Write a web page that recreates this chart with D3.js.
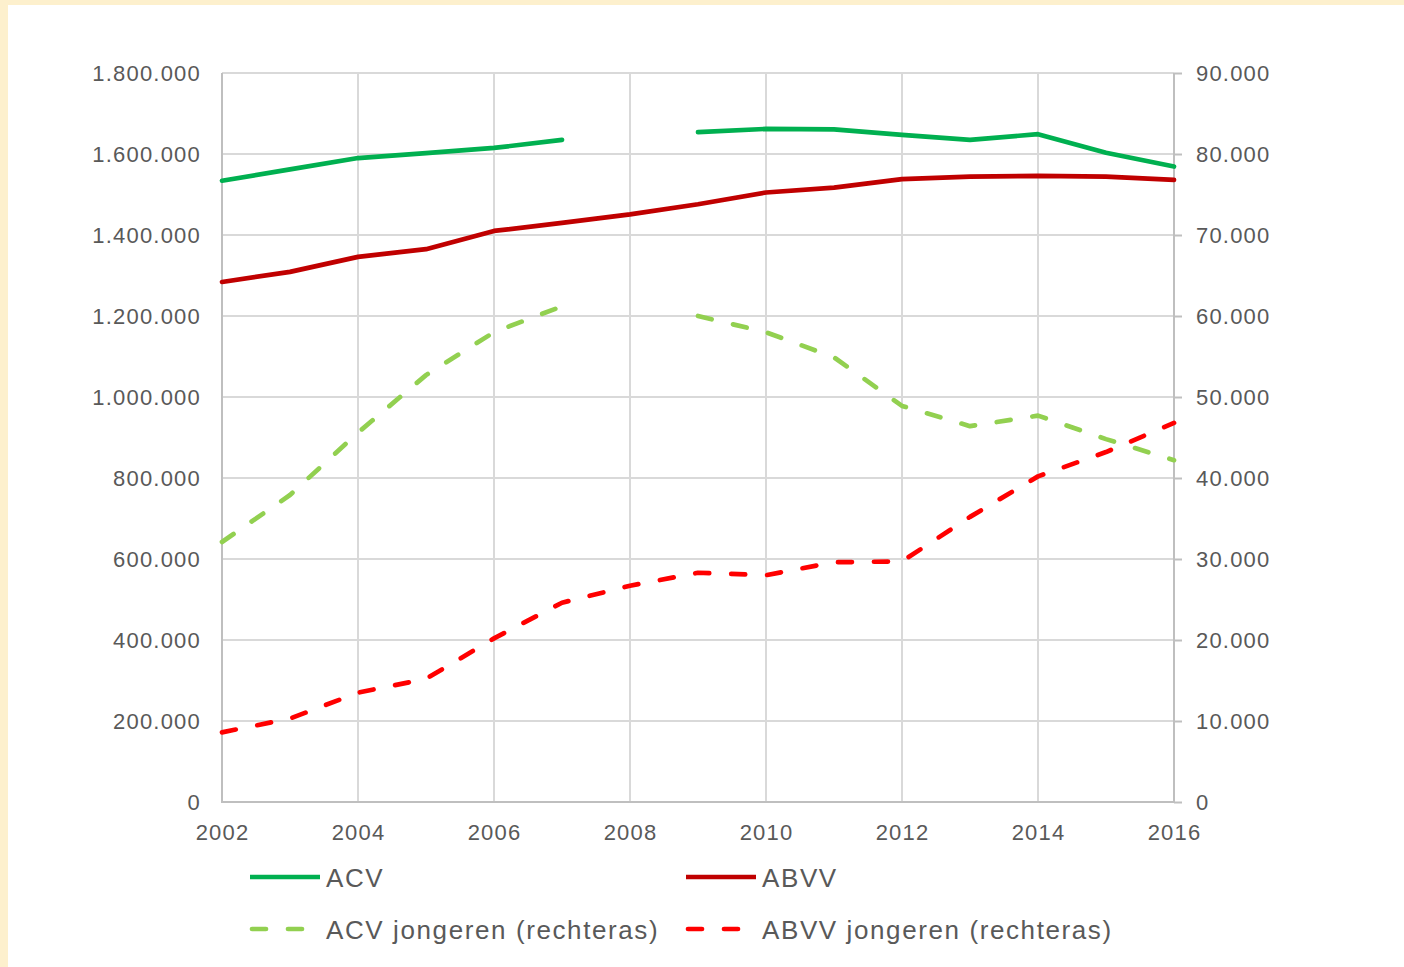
<!DOCTYPE html>
<html lang="nl">
<head>
<meta charset="UTF-8">
<script src="https://cdn.jsdelivr.net/npm/d3@7"></script>
<title>ACV / ABVV leden</title>
<style>
html, body { margin: 0; padding: 0; }
body { background: #FDF0CD; width: 1404px; height: 967px; overflow: hidden; }
#chart { position: absolute; left: 8px; top: 5px; background: #fff; }
text { font-family: "Liberation Sans", Arial, sans-serif; fill: #595959; }
</style>
</head>
<body>
<svg id="chart" width="1396" height="962"></svg>
<script>
// data
var years = [2002, 2003, 2004, 2005, 2006, 2007, 2008, 2009, 2010, 2011, 2012, 2013, 2014, 2015, 2016]
var acv = [1534000, 1562000, 1590000, 1602000, 1615000, 1635000, null, 1654000, 1662000, 1661000, 1647000, 1635000, 1649000, 1603000, 1569000]
var abvv = [1284000, 1309000, 1346000, 1365000, 1410000, 1430000, 1451000, 1476000, 1505000, 1517000, 1538000, 1544000, 1546000, 1544000, 1536000]
var acvJong = [32100, 37900, 45600, 52700, 58000, 61200, null, 60000, 58000, 54900, 48900, 46400, 47700, 44800, 42200]
var abvvJong = [8600, 10300, 13500, 15200, 20200, 24600, 26700, 28300, 28000, 29600, 29700, 35200, 40200, 43200, 46800]
var leftTicks = [0, 200000, 400000, 600000, 800000, 1000000, 1200000, 1400000, 1600000, 1800000]
var rightTicks = [0, 10000, 20000, 30000, 40000, 50000, 60000, 70000, 80000, 90000]
var yearTicks = [2002, 2004, 2006, 2008, 2010, 2012, 2014, 2016]

var series = [
    {name: "ACV", values: acv, axis: "left", color: "#00B050", dash: null},
    {name: "ABVV", values: abvv, axis: "left", color: "#C00000", dash: null},
    {name: "ACV jongeren (rechteras)", values: acvJong, axis: "right", color: "#92D050", dash: "14,22"},
    {name: "ABVV jongeren (rechteras)", values: abvvJong, axis: "right", color: "#FF0000", dash: "14,22"}
]

var nl = d3.formatLocale({decimal: ",", thousands: ".", grouping: [3], currency: ["", ""]})
var fmt = nl.format(",")

// svg is offset by (8,5) inside the page
var svg = d3.select("#chart")
var ox = 8, oy = 5
var margin = {left: 222 - ox, right: 1174 - ox, top: 73 - oy, bottom: 802 - oy}

var x = d3.scaleLinear().domain([2002, 2016]).range([margin.left, margin.right])
var yL = d3.scaleLinear().domain([0, 1800000]).range([margin.bottom, margin.top])
var yR = d3.scaleLinear().domain([0, 90000]).range([margin.bottom, margin.top])

// gridlines
svg.append("g")
    .selectAll("line.h")
    .data(leftTicks.slice(1))
    .enter().append("line")
    .attr("x1", margin.left).attr("x2", margin.right)
    .attr("y1", d => yL(d)).attr("y2", d => yL(d))
    .attr("stroke", "#D9D9D9").attr("stroke-width", 2)
svg.append("g")
    .selectAll("line.v")
    .data(yearTicks.slice(1, -1))
    .enter().append("line")
    .attr("x1", d => x(d)).attr("x2", d => x(d))
    .attr("y1", margin.top).attr("y2", margin.bottom)
    .attr("stroke", "#D9D9D9").attr("stroke-width", 2)

// axes
var yAxisL = d3.axisLeft(yL).tickValues(leftTicks).tickFormat(fmt).tickSize(0).tickPadding(21)
var yAxisR = d3.axisRight(yR).tickValues(rightTicks).tickFormat(fmt).tickSize(8).tickPadding(14)
var xAxis = d3.axisBottom(x).tickValues(yearTicks).tickFormat(d3.format("d")).tickSize(0).tickPadding(22)

function styleAxis(g) {
    g.select(".domain").remove()
    g.selectAll(".tick line").attr("stroke", "#BFBFBF").attr("stroke-width", 2)
    g.selectAll("text")
        .style("font-size", "22px")
        .style("letter-spacing", "1.2px")
        .attr("fill", "#595959")
}

svg.append("g").attr("transform", `translate(${margin.left},0)`).call(yAxisL).call(styleAxis)
svg.append("g").attr("transform", `translate(${margin.right},0)`).call(yAxisR).call(styleAxis)
svg.append("g").attr("transform", `translate(0,${margin.bottom})`).call(xAxis).call(styleAxis)

// axis lines
svg.append("line")
    .attr("x1", margin.left).attr("x2", margin.left)
    .attr("y1", margin.top).attr("y2", margin.bottom + 1)
    .attr("stroke", "#BFBFBF").attr("stroke-width", 2)
svg.append("line")
    .attr("x1", margin.right).attr("x2", margin.right)
    .attr("y1", margin.top).attr("y2", margin.bottom + 1)
    .attr("stroke", "#BFBFBF").attr("stroke-width", 2)
svg.append("line")
    .attr("x1", margin.left).attr("x2", margin.right)
    .attr("y1", margin.bottom).attr("y2", margin.bottom)
    .attr("stroke", "#BFBFBF").attr("stroke-width", 2)

// lines
series.forEach(function(s) {
    var y = s.axis == "left" ? yL : yR
    var line = d3.line()
        .defined(d => d.v != null)
        .x(d => x(d.year))
        .y(d => y(d.v))
    var data = years.map((yr, i) => ({year: yr, v: s.values[i]}))
    svg.append("path")
        .datum(data)
        .attr("d", line)
        .attr("fill", "none")
        .attr("stroke", s.color)
        .attr("stroke-width", 4.7)
        .attr("stroke-linecap", "round")
        .attr("stroke-linejoin", "round")
        .attr("stroke-dasharray", s.dash)
})

// legend
var legendPos = [
    {x: 250 - ox, y: 877 - oy},
    {x: 686 - ox, y: 877 - oy},
    {x: 250 - ox, y: 929 - oy},
    {x: 686 - ox, y: 929 - oy}
]
var legend = svg.append("g")
    .selectAll("g")
    .data(series)
    .enter().append("g")
    .attr("transform", (d, i) => `translate(${legendPos[i].x},${legendPos[i].y})`)
legend.append("line")
    .attr("x1", d => d.dash ? 2 : 0).attr("x2", 70)
    .attr("y1", 0).attr("y2", 0)
    .attr("stroke", d => d.color)
    .attr("stroke-width", 4.7)
    .attr("stroke-linecap", d => d.dash ? "round" : "butt")
    .attr("stroke-dasharray", d => d.dash)
legend.append("text")
    .attr("x", 76)
    .attr("y", 9.5)
    .style("font-size", "26px")
    .style("letter-spacing", "1.6px")
    .text(d => d.name)
</script>
</body>
</html>
